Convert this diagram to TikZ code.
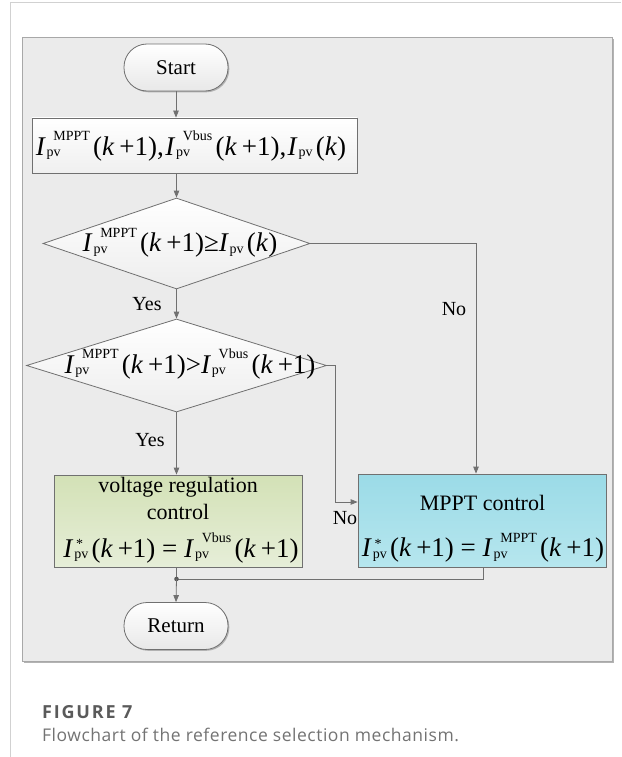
\documentclass[tikz,border=0pt]{standalone}
\usepackage{fontspec}
\usepackage{graphicx}
\setmainfont{Liberation Serif}
\newfontfamily\capfont{Open Sans}
\usetikzlibrary{shapes.geometric,shadows,arrows.meta,calc}
\definecolor{panelbg}{HTML}{EBEBEB}
\definecolor{panelln}{HTML}{A8A8A8}
\definecolor{lnc}{HTML}{707070}
\definecolor{greentop}{HTML}{D3E1B6}
\definecolor{greenbot}{HTML}{E6EED8}
\definecolor{cyantop}{HTML}{9BDBE7}
\definecolor{cyanbot}{HTML}{B6E6EE}
\definecolor{capgray}{HTML}{5A5A5A}
\def\scrsz{14}
\newcommand{\scr}{\fontsize{\scrsz}{\scrsz}\selectfont}
\newcommand{\Ip}[1]{\textit{I}\rlap{\kern0.28em\raisebox{0.52em}{\scr #1}}\rlap{\kern0.03em\raisebox{-0.05em}{\scr pv}}\hphantom{\kern0.28em{\scr #1}}\kern0.12em}
\newcommand{\Io}{\textit{I}\kern0.03em\raisebox{-0.05em}{\scr pv}\kern0.12em}
\newcommand{\Is}{\textit{I}\rlap{\kern0.1em\raisebox{0.3em}{\scr *}}\kern0.03em\raisebox{-0.05em}{\scr pv}\kern0.12em}
\newcommand{\kp}{(\textit{k}\kern0.18em+1)}
\newcommand{\kk}{(\textit{k})}
\tikzset{
  box/.style={draw=lnc, line width=0.8pt, inner sep=0pt,
    drop shadow={shadow xshift=1.3pt, shadow yshift=-1.3pt, fill=black!45, opacity=0.6}},
  term/.style={box, rounded corners=23pt, minimum width=104pt, minimum height=47pt,
    top color=white, bottom color=black!9, font=\fontsize{21}{25}\selectfont},
  dia/.style={diamond, draw=lnc, line width=0.8pt, inner sep=0pt, top color=white, bottom color=black!7},
  arr/.style={draw=lnc, line width=0.8pt, -{Triangle[length=7pt,width=5.5pt]}},
  ln/.style={draw=lnc, line width=0.8pt},
  txt/.style={inner sep=0pt, font=\fontsize{22}{26}\selectfont},
  eqt/.style={inner sep=0pt, font=\fontsize{27}{31}\selectfont},
  lab/.style={inner sep=0pt, font=\fontsize{20}{24}\selectfont},
}
\begin{document}
\begin{tikzpicture}[x=1pt,y=-1pt]
\useasboundingbox (0,0) rectangle (621,757);
% page frame
\draw[black!18, line width=1pt] (10,757) -- (10,3) -- (621,3);
% panel
\node[draw=panelln, fill=panelbg, line width=0.8pt, minimum width=590pt, minimum height=624pt,
  drop shadow={shadow xshift=1.5pt, shadow yshift=-2pt, fill=black!50, opacity=0.6}] (panel) at (317,349) {};
% nodes
\node[term] (start) at (176,67.5) {Start};
\node[box, top color=white, bottom color=black!6, minimum width=325pt, minimum height=55pt] (input) at (194.5,145.5) {};
\node[eqt] (inputtxt) at (191,146) {\Ip{MPPT}\kp,\kern0.05em\Ip{Vbus}\kp,\kern0.05em\Io\kk};
\node[dia, minimum width=267pt, minimum height=91pt] (d1) at (176.5,243.5) {};
\node[eqt] (d1txt) at (180,243) {\Ip{MPPT}\kp≥\Io\kk};
\node[dia, minimum width=300pt, minimum height=93pt] (d2) at (176.5,365.5) {};
\node[eqt] (d2txt) at (190,364) {\Ip{MPPT}\kp>\Ip{Vbus}\kp};
\node[box, top color=greentop, bottom color=greenbot, minimum width=248pt, minimum height=92pt] (green) at (178,521) {};
\node[txt] (g1) at (178,487) {voltage regulation};
\node[txt] (g2) at (178,512) {control};
\node[eqt] (g3) at (181,548) {\Is\kp\ = \Ip{Vbus}\kp};
\node[box, top color=cyantop, bottom color=cyanbot, minimum width=248pt, minimum height=93pt] (mppt) at (482,520.5) {};
\node[txt] (m1) at (482.5,503) {MPPT control};
\node[eqt] (m2) at (483,548) {\Is\kp\ = \Ip{MPPT}\kp};
\node[term] (ret) at (176,626) {Return};
\coordinate (j) at (176.5,579);
% labels
\node[lab] (y1) at (147,304) {Yes};
\node[lab] (n1) at (454,309) {No};
\node[lab] (y2) at (150,440) {Yes};
\node[lab] (n2) at (345,518) {No};
% connectors
\draw[arr] (start.south) -- (start.south |- input.north);
\draw[arr] (input.south -| d1.north) -- (d1.north);
\draw[arr] (d1.south) -- (d2.north);
\draw[arr] (d2.south) -- (d2.south |- green.north);
\draw[arr] (d1.east) -| ([xshift=-6pt]mppt.north);
\draw[arr] (d2.east) -- ++(8,0) |- ([yshift=18.5pt]mppt.west);
\draw[ln] (j |- green.south) -- (j);
\draw[ln] ([xshift=1pt]mppt.south) |- (j);
\fill[lnc!80!black] (j) circle (2.3pt);
\draw[arr] (j) -- (ret.north);
% caption
\node[anchor=west, inner sep=0pt, font=\capfont\bfseries\fontsize{18}{21}\selectfont\addfontfeatures{LetterSpace=10}, text=capgray] (figlab) at (42,712) {FIGURE 7};
\node[anchor=west, inner sep=0pt, font=\capfont\fontsize{17.5}{21}\selectfont\addfontfeatures{LetterSpace=3}, text=capgray!85] (figcap) at (42,735) {Flowchart of the reference selection mechanism.};
\end{tikzpicture}
\end{document}
